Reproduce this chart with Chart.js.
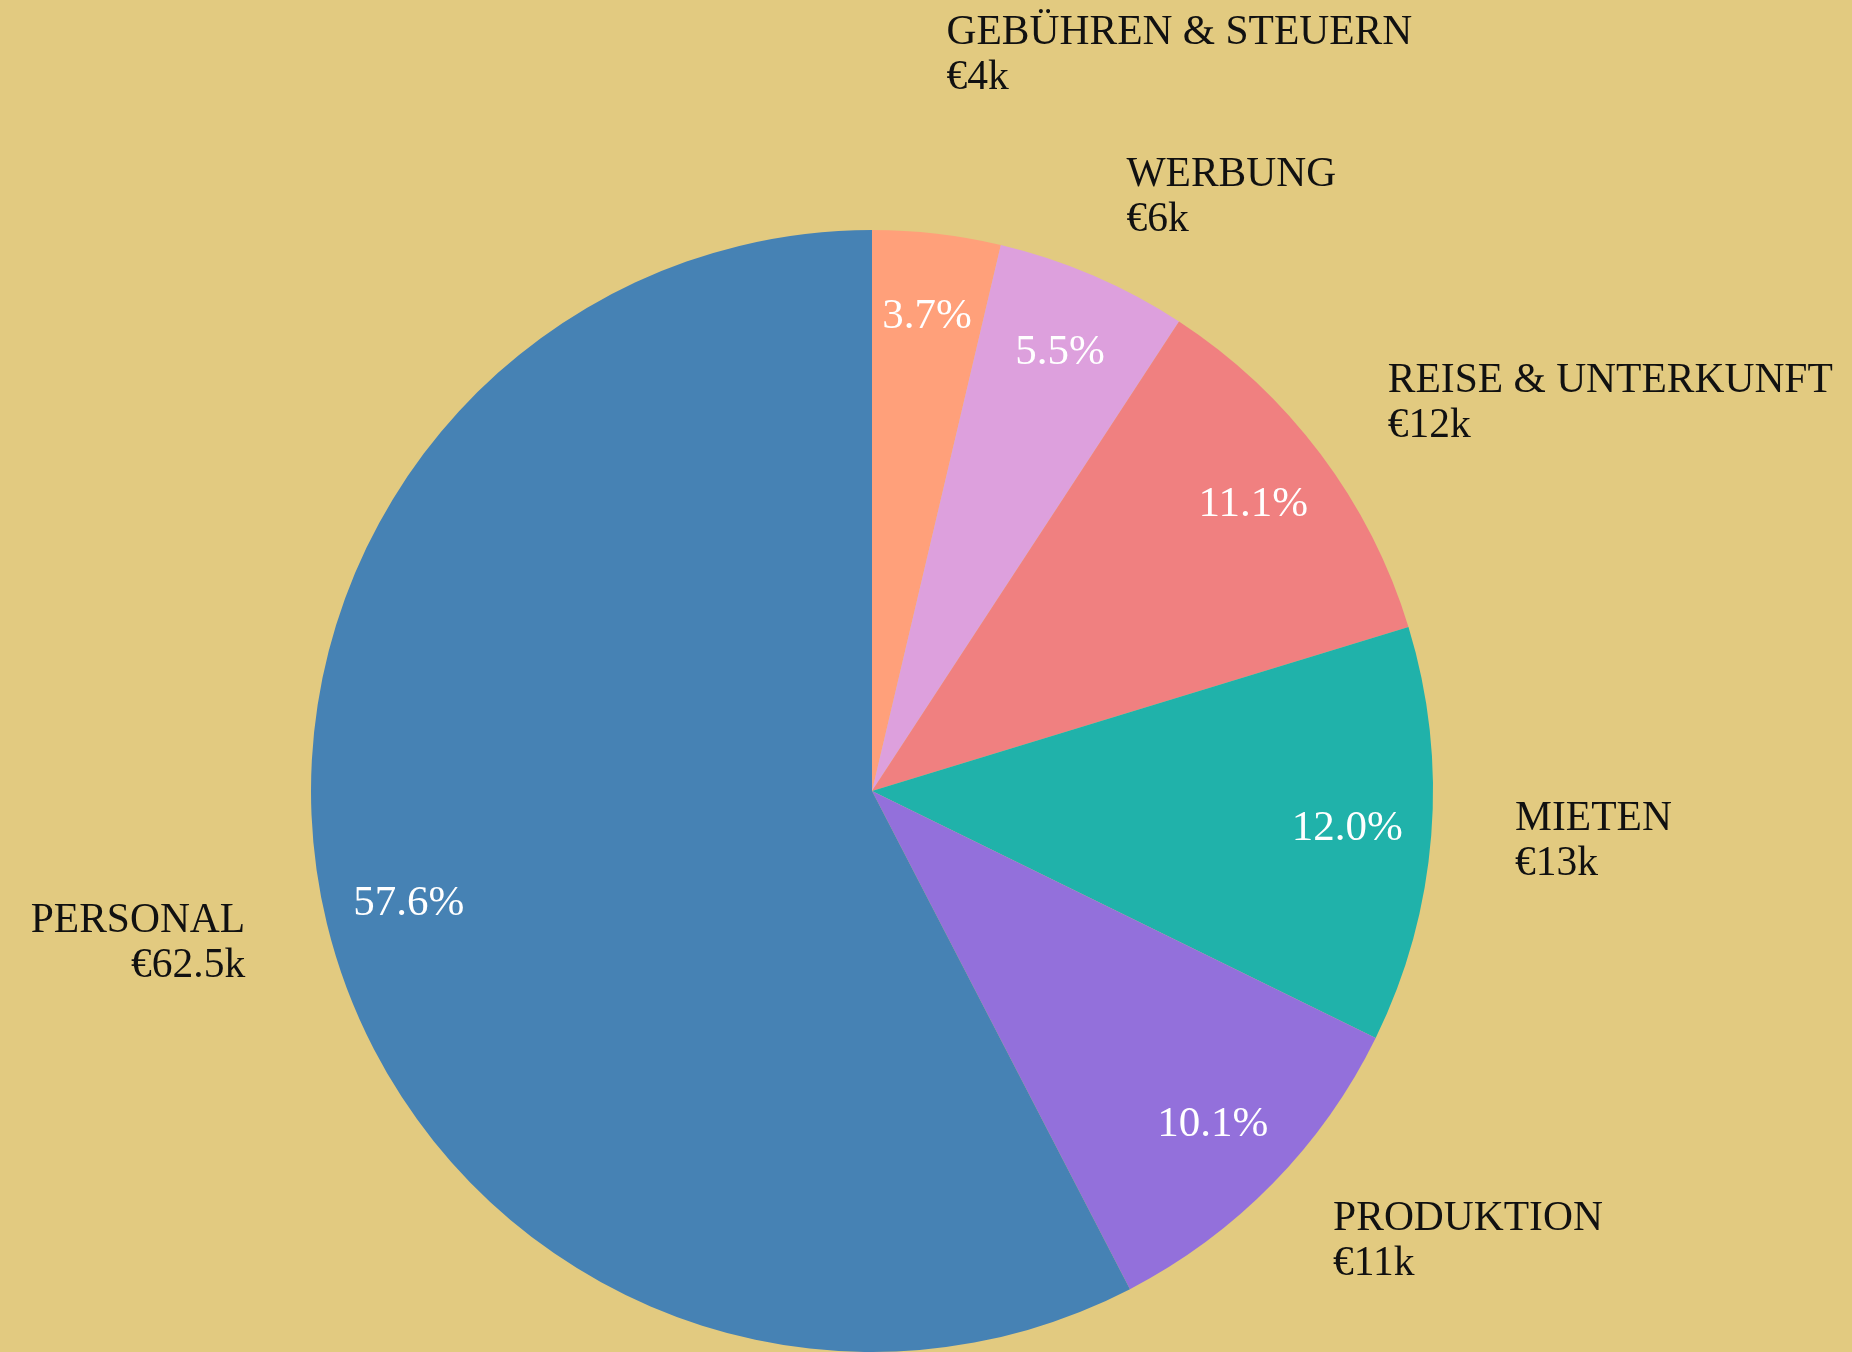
<!DOCTYPE html>
<html>
<head>
<meta charset="utf-8">
<script src="https://cdn.jsdelivr.net/npm/chart.js@4/dist/chart.umd.min.js"></script>
<style>
    html, body { margin: 0; padding: 0; background: #E2CA80; }
    #wrap { width: 1852px; height: 1352px; position: relative; }
</style>
</head>
<body>
<div id="wrap"><canvas id="costChart"></canvas></div>
<script>
// Kostenverteilung (Beträge in Tausend Euro)
const categories = ['GEBÜHREN & STEUERN', 'WERBUNG', 'REISE & UNTERKUNFT', 'MIETEN', 'PRODUKTION', 'PERSONAL'];
const amounts = [4, 6, 12, 13, 11, 62.5];
const sliceColors = ['#FFA07A', '#DDA0DD', '#F08080', '#20B2AA', '#9370DB', '#4682B4'];

const FONT = '"Liberation Serif", "Times New Roman", serif';
const LABEL_SIZE = 41.5;
const PCT_SIZE = 43;
const LINE_H = 45;
const BOX_H = 72;

// draws percent labels inside and name/value labels outside
const sliceLabels = {
    id: 'sliceLabels',
    afterDatasetsDraw(chart) {
        const ctx = chart.ctx;
        const meta = chart.getDatasetMeta(0);
        const values = chart.data.datasets[0].data;
        const total = values.reduce((a, b) => a + b, 0);

        ctx.save();
        ctx.textBaseline = 'alphabetic';

        const boxes = [];
        meta.data.forEach((arc, i) => {
            const p = arc.getProps(['x', 'y', 'startAngle', 'endAngle', 'outerRadius'], true);
            const mid = (p.startAngle + p.endAngle) / 2;
            const ux = Math.cos(mid), uy = Math.sin(mid);

            // percent inside
            const pr = p.outerRadius * 0.85;
            ctx.font = PCT_SIZE + 'px ' + FONT;
            ctx.fillStyle = '#ffffff';
            ctx.textAlign = 'center';
            ctx.fillText((values[i] / total * 100).toFixed(1) + '%', p.x + ux * pr, p.y + uy * pr + 11);

            // outside label block
            ctx.font = LABEL_SIZE + 'px ' + FONT;
            const lr = p.outerRadius * 1.15;
            const ax = p.x + ux * lr;
            const ay = p.y + uy * lr;
            const lines = [chart.data.labels[i], '€' + values[i] + 'k'];
            const w = Math.max(...lines.map(t => ctx.measureText(t).width));
            const left = ux >= 0 ? ax : ax - w;
            boxes.push({ mid, lines, right: ux < 0, left, w, cy: ay, ax, ux });
        });

        // push overlapping labels in the upper right away from each other
        const gap = 70;
        const sorted = boxes.slice().sort((a, b) => a.mid - b.mid);
        for (let k = sorted.length - 2; k >= 0; k--) {
            const a = sorted[k], b = sorted[k + 1];
            if (Math.sin(a.mid) >= 0 || a.ux < 0 || b.ux < 0) continue;
            const hOverlap = a.left < b.left + b.w && b.left < a.left + a.w;
            const aBottom = a.cy + BOX_H / 2, bTop = b.cy - BOX_H / 2;
            if (hOverlap && aBottom + gap > bTop) {
                a.cy = bTop - gap - BOX_H / 2;
            }
        }

        ctx.font = LABEL_SIZE + 'px ' + FONT;
        ctx.fillStyle = '#111111';
        boxes.forEach(b => {
            ctx.textAlign = b.right ? 'right' : 'left';
            const base1 = b.cy - 12;
            ctx.fillText(b.lines[0], b.ax, base1);
            ctx.fillText(b.lines[1], b.ax, base1 + LINE_H);
        });
        ctx.restore();
    }
};

const bgPlugin = {
    id: 'bg',
    beforeDraw(chart) {
        const ctx = chart.ctx;
        ctx.save();
        ctx.fillStyle = '#E2CA80';
        ctx.fillRect(0, 0, chart.width, chart.height);
        ctx.restore();
    }
};

document.addEventListener('DOMContentLoaded', function() {
    const ctx = document.getElementById('costChart').getContext('2d');
    new Chart(ctx, {
        type: 'pie',
        data: {
            labels: categories,
            datasets: [{
                data: amounts,
                backgroundColor: sliceColors,
                borderWidth: 0
            }]
        },
        options: {
            responsive: true,
            maintainAspectRatio: false,
            animation: false,
            layout: {
                padding: { left: 311, right: 419, top: 230, bottom: 0 }
            },
            plugins: {
                legend: { display: false },
                tooltip: { enabled: false }
            }
        },
        plugins: [bgPlugin, sliceLabels]
    });
});
</script>
</body>
</html>
